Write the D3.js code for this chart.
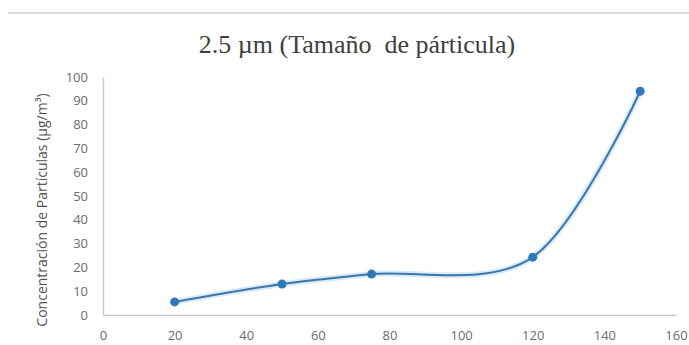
<!DOCTYPE html>
<html>
<head>
<meta charset="utf-8">
<script src="https://cdn.jsdelivr.net/npm/d3@7"></script>
<style>
  body { margin: 0; background: #fff; }
  .tick text { fill: #6b6b6b; font-family: "Open Sans", sans-serif; font-size: 13px; }
</style>
</head>
<body>
<div id="chart"></div>
<script>
// datos
const tamanos = [20, 50, 75, 120, 150];
const concentraciones = [5.5, 13, 17.2, 24.3, 94];
const ticksX = [0, 20, 40, 60, 80, 100, 120, 140, 160];
const ticksY = [0, 10, 20, 30, 40, 50, 60, 70, 80, 90, 100];
const titulo = "2.5 µm (Tamaño  de párticula)";
const tituloY = "Concentración de Partículas (µg/m³)";

const width = 689, height = 345;
const margin = { top: 77, right: 13, bottom: 30, left: 103 };
const w = width - margin.left - margin.right;
const h = height - margin.top - margin.bottom;

const svg = d3.select("#chart").append("svg")
    .attr("width", width)
    .attr("height", height);

// línea gris superior
svg.append("line")
    .attr("x1", 8).attr("x2", width)
    .attr("y1", 13).attr("y2", 13)
    .attr("stroke", "#dcdcdc")
    .attr("stroke-width", 2);

const g = svg.append("g")
    .attr("transform", `translate(${margin.left},${margin.top})`);

const x = d3.scaleLinear().domain([0, 160]).range([0, w]);
const y = d3.scaleLinear().domain([0, 100]).range([h, 0]);

// eje x
const ejeX = g.append("g")
    .attr("transform", `translate(0,${h})`)
    .call(d3.axisBottom(x).tickValues(ticksX).tickSize(0).tickPadding(16));
ejeX.select(".domain").attr("stroke", "#c8c8c8").attr("stroke-width", 1.5);

// eje y
const ejeY = g.append("g")
    .call(d3.axisLeft(y).tickValues(ticksY).tickSize(0).tickPadding(15));
ejeY.select(".domain").attr("stroke", "#c8c8c8").attr("stroke-width", 1.5);

// título (con doble espacio como el original)
svg.append("text")
    .attr("x", 357)
    .attr("y", 53)
    .attr("text-anchor", "middle")
    .style("white-space", "pre")
    .style("font-family", "'Liberation Serif', 'Times New Roman', serif")
    .style("font-size", "26px")
    .style("fill", "#404040")
    .text(titulo);

// título eje y
svg.append("text")
    .attr("transform", "rotate(-90)")
    .attr("x", -210)
    .attr("y", 47)
    .attr("text-anchor", "middle")
    .style("font-family", "'Open Sans', sans-serif")
    .style("font-size", "14px")
    .style("fill", "#555")
    .text(tituloY);

const puntos = tamanos.map((t, i) => ({ t, c: concentraciones[i] }));

// suavizado tipo Excel
const linea = d3.line()
    .x(d => x(d.t))
    .y(d => y(d.c))
    .curve(d3.curveCatmullRom.alpha(0));

// halo claro alrededor de la línea
g.append("path")
    .datum(puntos)
    .attr("fill", "none")
    .attr("stroke", "#d6ecfa")
    .attr("stroke-width", 6)
    .attr("d", linea);

g.append("path")
    .datum(puntos)
    .attr("fill", "none")
    .attr("stroke", "#3f74a8")
    .attr("stroke-width", 2)
    .attr("d", linea);

g.selectAll(".punto")
    .data(puntos)
    .join("circle")
    .attr("class", "punto")
    .attr("cx", d => x(d.t))
    .attr("cy", d => y(d.c))
    .attr("r", 4.5)
    .attr("fill", "#2f79b9");
</script>
</body>
</html>
